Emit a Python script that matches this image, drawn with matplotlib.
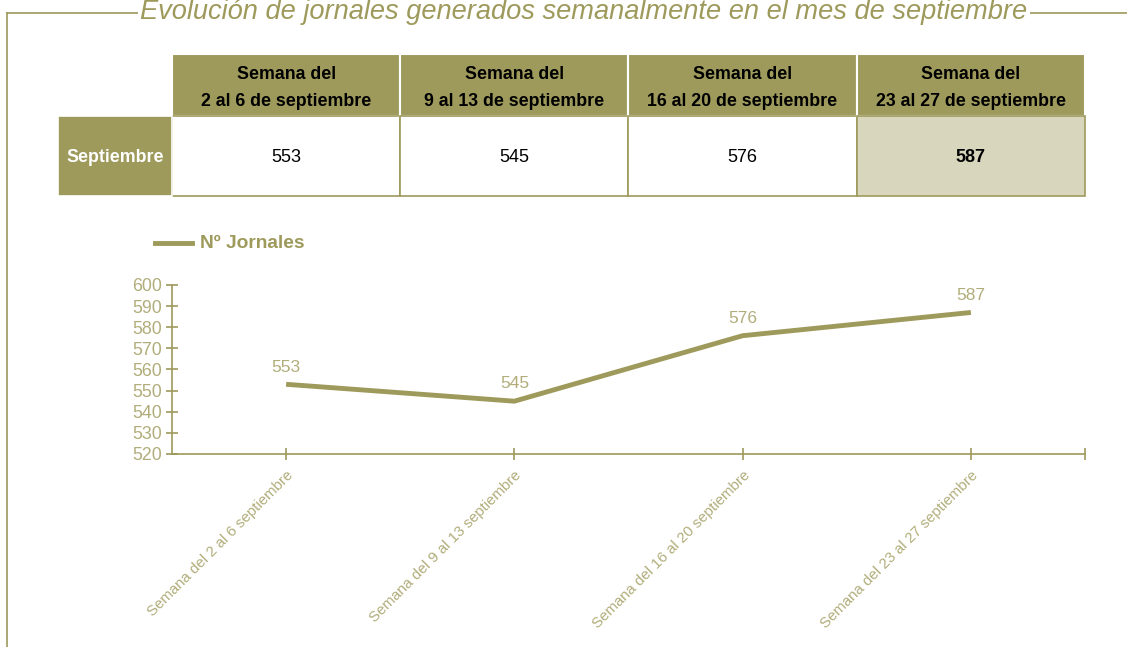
import matplotlib
matplotlib.use("Agg")
import matplotlib.pyplot as plt
from matplotlib.patches import Rectangle

# data
semanas_tabla = ["Semana del\n2 al 6 de septiembre", "Semana del\n9 al 13 de septiembre",
                 "Semana del\n16 al 20 de septiembre", "Semana del\n23 al 27 de septiembre"]
semanas_eje = ["Semana del 2 al 6 septiembre", "Semana del 9 al 13 septiembre",
               "Semana del 16 al 20 septiembre", "Semana del 23 al 27 septiembre"]
jornales = [553, 545, 576, 587]
fila = "Septiembre"
titulo = "Evolución de jornales generados semanalmente en el mes de septiembre"
serie = "Nº Jornales"

OLIVE = "#9e9a5c"
LIGHT = "#b1ad7b"
PALE = "#d8d6bd"
NARROW = ["Liberation Sans Narrow", "Liberation Sans", "DejaVu Sans"]

W, H = 1127, 647
fig = plt.figure(figsize=(W / 100, H / 100), dpi=100)

# background axes in pixel coordinates for frame, title and table
bg = fig.add_axes([0, 0, 1, 1])
bg.set_xlim(0, W)
bg.set_ylim(H, 0)
bg.axis("off")

# frame
bg.plot([7, 7], [13, H], color=OLIVE, lw=1.2)
bg.plot([7, W], [13, 13], color=OLIVE, lw=1.2)
bg.text(584, 12, titulo, ha="center", va="center", color=OLIVE, fontsize=19.6,
        style="italic", family=NARROW,
        bbox=dict(facecolor="white", edgecolor="none", pad=2))

# table
x0, cw = 172, 228.2
head_top, head_bot, row_bot = 54, 116, 196
for i, lab in enumerate(semanas_tabla):
    x = x0 + i * cw
    bg.add_patch(Rectangle((x, head_top), cw, head_bot - head_top, facecolor=OLIVE,
                           edgecolor="white", lw=1.5))
    bg.text(x + cw / 2, (head_top + head_bot) / 2 + 3, lab, ha="center", va="center",
            fontsize=12.8, fontweight="bold", color="black", family=NARROW, linespacing=1.75)
    last = i == len(semanas_tabla) - 1
    bg.add_patch(Rectangle((x, head_bot), cw, row_bot - head_bot,
                           facecolor=PALE if last else "white", edgecolor=OLIVE, lw=1.2))
    bg.text(x + cw / 2, (head_bot + row_bot) / 2 + 1, str(jornales[i]), ha="center",
            va="center", fontsize=13, color="black",
            fontweight="bold" if last else "normal", family=NARROW)
bg.add_patch(Rectangle((58, head_bot), x0 - 58, row_bot - head_bot, facecolor=OLIVE,
                       edgecolor="white", lw=1.2))
bg.text((58 + x0) / 2, (head_bot + row_bot) / 2 + 1, fila, ha="center", va="center",
        fontsize=12.8, fontweight="bold", color="white", family=NARROW)

# legend
bg.plot([155, 192], [243, 243], color=OLIVE, lw=3.5)
bg.text(200, 243, serie, ha="left", va="center", fontsize=13.8, fontweight="bold",
        color=OLIVE, family=NARROW)

# line chart
ax = fig.add_axes([172 / W, 1 - 454 / H, 913 / W, (454 - 285) / H])
xs = [i + 0.5 for i in range(len(jornales))]
ax.plot(xs, jornales, color=OLIVE, lw=3.5, solid_capstyle="butt")
for x, v in zip(xs, jornales):
    ax.annotate(str(v), (x, v), xytext=(0, 7), textcoords="offset points", ha="center",
                va="bottom", fontsize=12.5, color=LIGHT, family=NARROW)
ax.set_xlim(0, len(jornales))
ax.set_ylim(520, 600)
ax.set_yticks(range(520, 601, 10))
ax.set_xticks(xs)
ax.set_xticks([len(jornales)], minor=True)
ax.set_xticklabels(semanas_eje, rotation=45, ha="right", va="top", rotation_mode="anchor",
                   fontsize=10.8, color=LIGHT, family=NARROW)
for lab in ax.get_yticklabels():
    lab.set_family(NARROW)
ax.tick_params(axis="y", direction="inout", length=9, width=1.2, color=OLIVE,
               labelcolor=LIGHT, labelsize=12.8, pad=3)
ax.tick_params(axis="x", which="both", direction="inout", length=8, width=1.2, color=OLIVE, pad=6)
for s in ["top", "right"]:
    ax.spines[s].set_visible(False)
for s in ["left", "bottom"]:
    ax.spines[s].set_color(OLIVE)
    ax.spines[s].set_linewidth(1.2)
ax.patch.set_alpha(0)

fig.savefig("out.png", dpi=100)
